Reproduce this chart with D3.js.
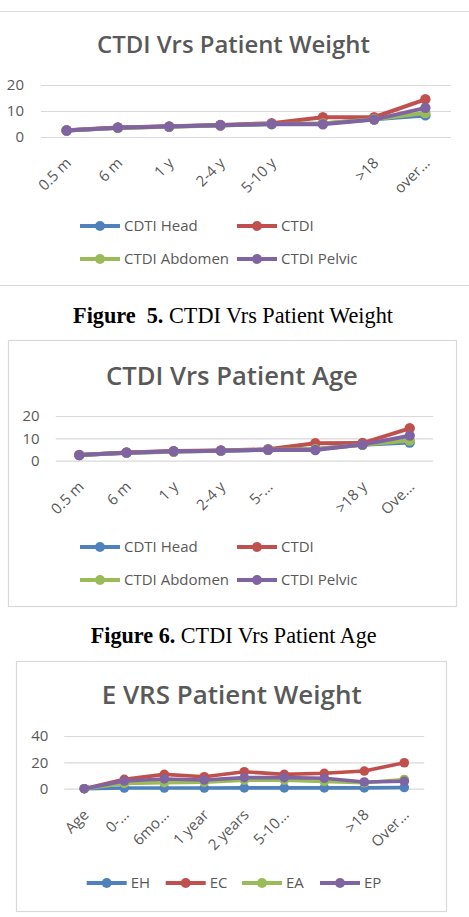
<!DOCTYPE html>
<html><head><meta charset="utf-8">
<script src="https://cdn.jsdelivr.net/npm/d3@7"></script>
<style>body{margin:0;background:#fff}svg{display:block}</style>
</head><body>
<svg id="c" width="469" height="917"></svg>
<script>
// ---------- DATA ----------
const weightCategories = ["0.5 m", "6 m", "1 y", "2-4 y", "5-10 y", "", ">18", "over..."];
const weightHead    = [2.5, 3.6, 4.0, 4.5, 5.0, 5.2, 6.8, 8.3];
const weightCTDI    = [2.6, 3.7, 4.1, 4.6, 5.3, 7.6, 7.6, 14.5];
const weightAbdomen = [2.5, 3.5, 3.9, 4.4, 5.0, 5.2, 6.8, 9.2];
const weightPelvic  = [2.5, 3.6, 4.0, 4.5, 5.0, 4.9, 6.7, 11.2];

const ageCategories = ["0.5 m", "6 m", "1 y", "2-4 y", "5-...", "", ">18 y", "Ove..."];
const ageHead    = [2.5, 3.6, 4.1, 4.5, 4.9, 5.2, 7.1, 8.1];
const ageCTDI    = [2.6, 3.7, 4.3, 4.6, 5.1, 7.8, 7.9, 14.5];
const ageAbdomen = [2.5, 3.5, 4.0, 4.4, 4.9, 5.1, 7.1, 9.0];
const agePelvic  = [2.5, 3.6, 4.2, 4.5, 4.9, 4.8, 7.2, 11.2];

const eCategories = ["Age", "0-...", "6mo...", "1 year", "2 years", "5-10...", "", ">18", "Over..."];
const eEH = [0, 0.5, 0.5, 0.5, 0.6, 0.6, 0.6, 0.6, 0.9];
const eEC = [0, 7.1, 10.9, 9.1, 12.9, 10.9, 11.7, 13.4, 19.7];
const eEA = [0, 4.0, 4.6, 5.0, 6.5, 6.5, 5.5, 4.5, 7.0];
const eEP = [0, 5.8, 7.4, 6.6, 8.4, 8.4, 7.9, 5.1, 5.6];

const ctdiSeriesNames = ["CDTI Head", "CTDI", "CTDI Abdomen", "CTDI Pelvic"];
const eSeriesNames = ["EH", "EC", "EA", "EP"];
const ticks20 = [0, 10, 20];
const ticks40 = [0, 20, 40];
const chartTitles = ["CTDI Vrs Patient Weight", "CTDI Vrs Patient Age", "E VRS Patient Weight"];
const captionBold = ["Figure  5.", "Figure 6."];
const captionText = [" CTDI Vrs Patient Weight", " CTDI Vrs Patient Age"];

const colors = ["#4F81BD", "#C0504D", "#9BBB59", "#8064A2"];
const FONT = "'Open Sans', sans-serif";
const GREY = "#595959";

// ---------- DRAW ----------
const svg = d3.select("#c");
svg.append("rect").attr("width", 469).attr("height", 917).attr("fill", "#fff");

function fitText(sel, target) {
  const node = sel.node();
  const w = node.getComputedTextLength ? node.getComputedTextLength() : node.getBBox().width;
  const fs = parseFloat(sel.style("font-size"));
  sel.style("font-size", (fs * target / w) + "px");
}

function drawChart(cfg) {
  const g = svg.append("g");
  // border
  if (cfg.box.sides) {
    g.append("rect").attr("x", cfg.box.x0 + 0.5).attr("y", cfg.box.y0 + 0.5)
      .attr("width", cfg.box.x1 - cfg.box.x0).attr("height", cfg.box.y1 - cfg.box.y0)
      .attr("fill", "none").attr("stroke", "#d9d9d9").attr("stroke-width", 1.2);
  } else {
    [cfg.box.y0, cfg.box.y1].forEach(yy => g.append("line")
      .attr("x1", 0).attr("x2", 469).attr("y1", yy + 0.5).attr("y2", yy + 0.5)
      .attr("stroke", "#d9d9d9").attr("stroke-width", 1.2));
  }
  // title
  const t = g.append("text").attr("x", cfg.titleX).attr("y", cfg.titleY)
    .attr("text-anchor", "middle").style("font-family", FONT).style("font-weight", 600)
    .style("font-size", "24px").attr("fill", GREY).text(cfg.title);
  fitText(t, cfg.titleW);

  const idx = d3.range(cfg.categories.length);
  const x = d3.scalePoint().domain(idx).range([cfg.plot.x0, cfg.plot.x1]).padding(0.5);
  const y = d3.scaleLinear().domain([0, cfg.yMax]).range([cfg.plot.yb, cfg.plot.yt]);

  // y axis + gridlines
  const ya = g.append("g").attr("transform", `translate(${cfg.plot.x0},0)`)
    .call(d3.axisLeft(y).tickValues(cfg.ticks).tickSize(-(cfg.plot.x1 - cfg.plot.x0)).tickPadding(cfg.tickPad));
  ya.select(".domain").remove();
  ya.selectAll(".tick line").attr("stroke", "#d9d9d9").attr("stroke-width", 1.2);
  ya.selectAll(".tick text").attr("fill", GREY).style("font-family", FONT).style("font-size", "15px");

  // x axis labels
  const xa = g.append("g").attr("transform", `translate(0,${cfg.plot.yb})`)
    .call(d3.axisBottom(x).tickSize(0).tickFormat(i => cfg.categories[i]));
  xa.select(".domain").remove();
  xa.selectAll(".tick text").attr("x", 0).attr("y", 0).attr("dy", 0)
    .attr("text-anchor", "end").attr("transform", "translate(5,27) rotate(-45)")
    .attr("fill", GREY).style("font-family", FONT).style("font-size", "15px");

  // series
  const line = d3.line().x((d, i) => x(i)).y(d => y(d));
  cfg.series.forEach((s, k) => {
    g.append("path").datum(s).attr("d", line).attr("fill", "none")
      .attr("stroke", colors[k]).attr("stroke-width", cfg.lw).attr("stroke-linejoin", "round");
    g.selectAll(null).data(s).enter().append("circle")
      .attr("cx", (d, i) => x(i)).attr("cy", d => y(d)).attr("r", cfg.r).attr("fill", colors[k]);
  });

  // legend
  cfg.names.forEach((n, k) => {
    const lx = cfg.legend.xs[k], ly = cfg.legend.ys[k];
    g.append("line").attr("x1", lx).attr("x2", lx + 40).attr("y1", ly).attr("y2", ly)
      .attr("stroke", colors[k]).attr("stroke-width", 4);
    g.append("circle").attr("cx", lx + 20).attr("cy", ly).attr("r", 5).attr("fill", colors[k]);
    g.append("text").attr("x", lx + 44).attr("y", ly).attr("dy", "0.35em")
      .attr("fill", GREY).style("font-family", FONT).style("font-size", "15px").text(n);
  });
}

drawChart({
  box: {x0: 0, x1: 469, y0: 11, y1: 285, sides: false},
  title: chartTitles[0], titleX: 233.5, titleY: 52.5, titleW: 273,
  plot: {x0: 41, x1: 451, yb: 137, yt: 85}, yMax: 20, ticks: ticks20, tickPad: 17,
  categories: weightCategories,
  series: [weightHead, weightCTDI, weightAbdomen, weightPelvic],
  names: ctdiSeriesNames, lw: 4, r: 5.2,
  legend: {xs: [80, 237, 80, 237], ys: [226, 226, 259, 259]}
});

drawChart({
  box: {x0: 8, x1: 456, y0: 340, y1: 606, sides: true},
  title: chartTitles[1], titleX: 232, titleY: 385, titleW: 252,
  plot: {x0: 55.7, x1: 433.3, yb: 460.7, yt: 416}, yMax: 20, ticks: ticks20, tickPad: 16,
  categories: ageCategories,
  series: [ageHead, ageCTDI, ageAbdomen, agePelvic],
  names: ctdiSeriesNames, lw: 4, r: 5.2,
  legend: {xs: [80, 237, 80, 237], ys: [547, 547, 580, 580]}
});

drawChart({
  box: {x0: 16, x1: 446, y0: 661, y1: 911, sides: true},
  title: chartTitles[2], titleX: 231.7, titleY: 704.3, titleW: 260,
  plot: {x0: 64.3, x1: 424.3, yb: 788.7, yt: 736}, yMax: 40, ticks: ticks40, tickPad: 16,
  categories: eCategories,
  series: [eEH, eEC, eEA, eEP],
  names: eSeriesNames, lw: 3.6, r: 4.8,
  legend: {xs: [86.7, 165.7, 242, 320], ys: [883, 883, 883, 883]}
});

// captions
[[233, 322.7, 320], [233.7, 643.3, 286]].forEach(([cx, cy, w], k) => {
  const t = svg.append("text").attr("x", cx).attr("y", cy).attr("text-anchor", "middle")
    .style("font-family", "'Liberation Serif', 'Times New Roman', serif").style("font-size", "20px")
    .style("white-space", "pre").attr("fill", "#000");
  t.append("tspan").style("font-weight", "bold").text(captionBold[k]);
  t.append("tspan").text(captionText[k]);
  fitText(t, w);
});
</script>
</body></html>
